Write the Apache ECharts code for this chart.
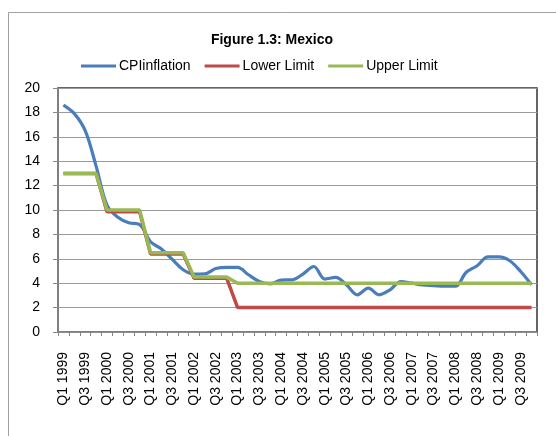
<!DOCTYPE html>
<html>
<head>
<meta charset="utf-8">
<script src="https://cdn.jsdelivr.net/npm/echarts@6/dist/echarts.min.js"></script>
<style>
  html, body { margin: 0; padding: 0; background: #fff; }
  #chart { width: 556px; height: 436px; }
</style>
</head>
<body>
<div id="chart"></div>
<script>
// Quarters Q1 1999 .. Q4 2009
const years = [1999, 2000, 2001, 2002, 2003, 2004, 2005, 2006, 2007, 2008, 2009];
const quarters = [];
years.forEach(y => { for (let q = 1; q <= 4; q++) quarters.push('Q' + q + ' ' + y); });

// Annual CPI inflation, %
const cpiInflation = [
  18.6, 17.9, 16.5, 13.6, 10.4, 9.4, 8.95, 8.8,
  7.4, 6.8, 5.95, 5.1, 4.75, 4.77, 5.2, 5.3,
  5.3, 4.69, 4.14, 3.95, 4.25, 4.28, 4.75, 5.37,
  4.34, 4.47, 3.87, 3.05, 3.6, 3.05, 3.46, 4.14,
  4.0, 3.85, 3.8, 3.75, 3.75, 4.9, 5.43, 6.15,
  6.15, 5.84, 4.96, 3.87
];

// Target band
const lowerLimit = [
  13, 13, 13, 13, 9.85, 9.85, 9.85, 9.85,
  6.4, 6.4, 6.4, 6.4, 4.4, 4.4, 4.4, 4.4,
  2, 2, 2, 2, 2, 2, 2, 2,
  2, 2, 2, 2, 2, 2, 2, 2,
  2, 2, 2, 2, 2, 2, 2, 2,
  2, 2, 2, 2
];
const upperLimit = [
  13, 13, 13, 13, 10, 10, 10, 10,
  6.5, 6.5, 6.5, 6.5, 4.5, 4.5, 4.5, 4.5,
  4, 4, 4, 4, 4, 4, 4, 4,
  4, 4, 4, 4, 4, 4, 4, 4,
  4, 4, 4, 4, 4, 4, 4, 4,
  4, 4, 4, 4
];

const FONT = '"Liberation Sans", Arial, sans-serif';
const chart = echarts.init(document.getElementById('chart'), null, { renderer: 'canvas' });

chart.setOption({
  animation: false,
  backgroundColor: '#fff',
  graphic: [{
    type: 'rect',
    shape: { x: 8.5, y: 12.5, width: 600, height: 500 },
    style: { fill: 'none', stroke: '#a0a0a0', lineWidth: 1 },
    silent: true, z: -10
  }],
  title: {
    text: 'Figure 1.3: Mexico',
    left: 267, top: 28, textAlign: 'center',
    textStyle: { fontFamily: FONT, fontSize: 14, fontWeight: 'bold', color: '#000' }
  },
  legend: {
    top: 54, left: 76,
    icon: 'rect', itemWidth: 35, itemHeight: 3, itemGap: 14,
    textStyle: { fontFamily: FONT, fontSize: 14, color: '#000', padding: [0, 0, 0, -2] },
    data: ['CPIinflation', 'Lower Limit', 'Upper Limit']
  },
  grid: {
    left: 58, right: 19, top: 88, bottom: 104,
    show: true, borderColor: '#333', borderWidth: 1.5, backgroundColor: '#fff'
  },
  xAxis: {
    type: 'category',
    data: quarters,
    boundaryGap: true,
    axisLine: { lineStyle: { color: '#888', width: 1.5 } },
    axisTick: { show: true, interval: 0, length: 4, lineStyle: { color: '#888' } },
    axisLabel: {
      interval: 1, rotate: 90, margin: 20,
      fontFamily: FONT, fontSize: 14, color: '#000'
    },
    splitLine: { show: false }
  },
  yAxis: {
    type: 'value',
    min: 0, max: 20, interval: 2,
    axisLine: { show: true, lineStyle: { color: '#888', width: 1.5 } },
    axisTick: { show: true, length: 5, lineStyle: { color: '#888' } },
    axisLabel: { margin: 18, fontFamily: FONT, fontSize: 14, color: '#000' },
    splitLine: { lineStyle: { color: '#9a9a9a', width: 1 } }
  },
  series: [
    {
      name: 'CPIinflation', type: 'line', data: cpiInflation,
      smooth: 0.35, showSymbol: false, symbol: 'none',
      lineStyle: { color: '#4a7ebb', width: 3.2 },
      itemStyle: { color: '#4a7ebb' }, z: 3
    },
    {
      name: 'Lower Limit', type: 'line', data: lowerLimit,
      showSymbol: false, symbol: 'none',
      lineStyle: { color: '#be4b48', width: 3.5 },
      itemStyle: { color: '#be4b48' }, z: 4
    },
    {
      name: 'Upper Limit', type: 'line', data: upperLimit,
      showSymbol: false, symbol: 'none',
      lineStyle: { color: '#98b954', width: 3.5 },
      itemStyle: { color: '#98b954' }, z: 5
    }
  ]
});
</script>
</body>
</html>
